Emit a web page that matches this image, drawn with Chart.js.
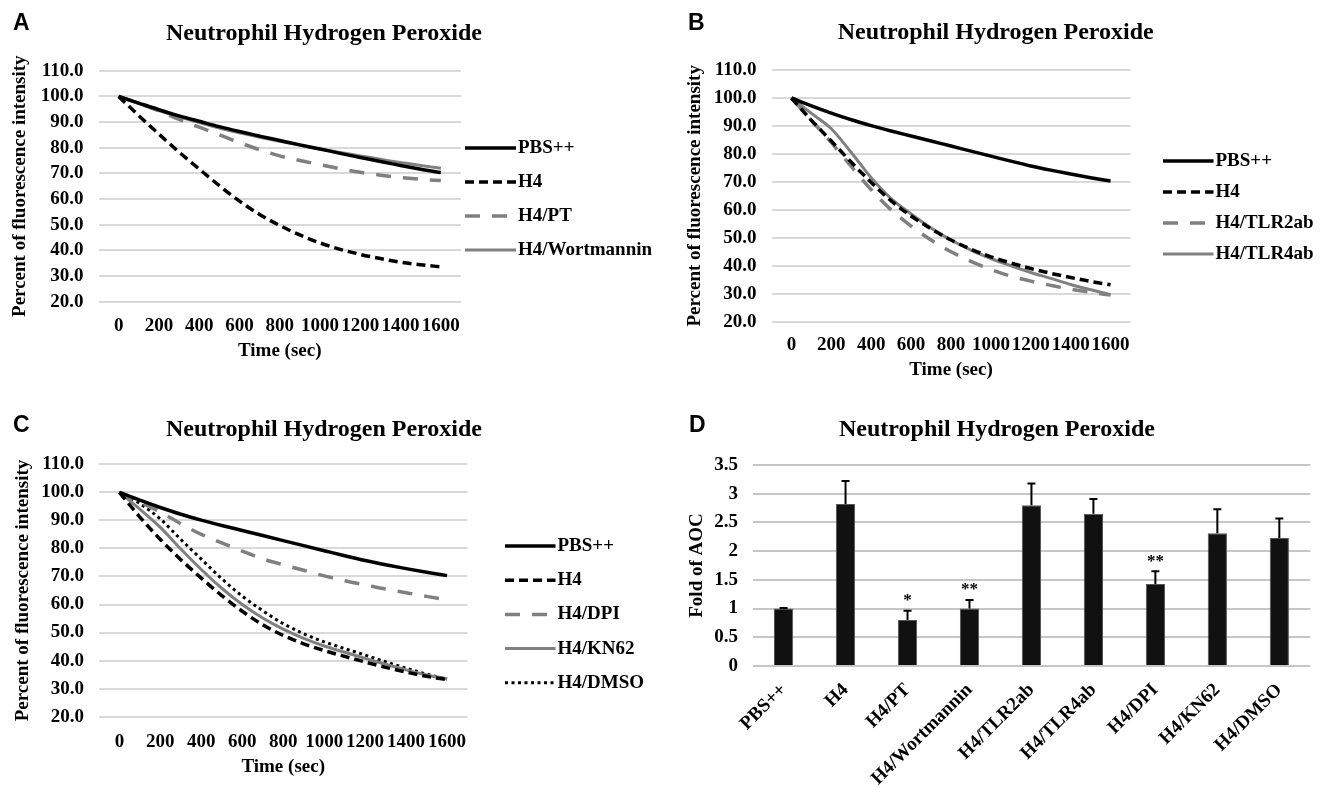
<!DOCTYPE html>
<html>
<head>
<meta charset="utf-8">
<script src="https://cdn.jsdelivr.net/npm/chart.js@4.4.1/dist/chart.umd.min.js"></script>
<style>
body { margin:0; background:#fff; width:1320px; height:787px; position:relative; overflow:hidden; }
.panel { position:absolute; }
.letra { position:absolute; font-family:'Liberation Sans', Arial, sans-serif; font-weight:bold; font-size:23px; line-height:1; color:#000; }
</style>
</head>
<body>
<div class="panel" style="left:0px;top:0px"><canvas id="graph_a" width="660" height="390"></canvas></div>
<div class="panel" style="left:660px;top:0px"><canvas id="graph_b" width="660" height="390"></canvas></div>
<div class="panel" style="left:0px;top:390px"><canvas id="graph_c" width="660" height="397"></canvas></div>
<div class="panel" style="left:660px;top:390px"><canvas id="graph_d" width="660" height="397"></canvas></div>
<div class="letra" style="left:13px;top:11px">A</div>
<div class="letra" style="left:688px;top:11px">B</div>
<div class="letra" style="left:13px;top:413px">C</div>
<div class="letra" style="left:689px;top:413px">D</div>
<script>
// tiempos (sec) y etiquetas del eje x
var tiempos = [0, 100, 200, 300, 400, 500, 600, 700, 800, 900, 1000, 1100, 1200, 1300, 1400, 1500, 1600];
var xTicks = [0, 200, 400, 600, 800, 1000, 1200, 1400, 1600];

// panel A
var a_pbs  = [100, 97.4, 94.8, 92.4, 90.3, 88.2, 86.3, 84.5, 82.8, 81.1, 79.5, 77.8, 76.2, 74.6, 73.1, 71.6, 70.3];
var a_h4   = [100, 92.5, 85.3, 78.3, 71.7, 65.2, 59.2, 54, 49.7, 46, 42.9, 40.4, 38.4, 36.8, 35.4, 34.4, 33.6];
var a_pt   = [100, 97.2, 94.3, 91, 88, 85, 82, 79.2, 76.8, 75, 73.4, 71.8, 70.4, 69.3, 68.4, 67.7, 67.2];
var a_wort = [100, 97.2, 94.5, 92, 89.8, 87.7, 85.8, 84.1, 82.5, 81, 79.5, 78.1, 76.8, 75.5, 74.2, 73.1, 72];

// panel B
var b_pbs  = [100, 97.2, 94.6, 92.2, 90.1, 88.2, 86.4, 84.6, 82.8, 81, 79.2, 77.4, 75.7, 74.2, 72.8, 71.5, 70.3];
var b_h4   = [100, 92, 84.6, 77, 69.8, 63.2, 57.8, 53.2, 49.2, 45.9, 43.2, 41, 39, 37.3, 35.8, 34.4, 33.2];
var b_tlr2 = [100, 92, 84, 75.5, 67.2, 60, 54.2, 49.2, 45, 41.6, 38.7, 36.3, 34.5, 33, 31.6, 30.5, 29.5];
var b_tlr4 = [100, 94.5, 89, 80.5, 71.5, 64, 58.5, 53.5, 49.2, 45.6, 42.6, 40, 37.6, 35.5, 33.3, 31.4, 29.7];

// panel C
var c_pbs  = [100, 97.2, 94.6, 92.2, 90.1, 88.2, 86.4, 84.6, 82.8, 81, 79.2, 77.4, 75.7, 74.2, 72.8, 71.5, 70.3];
var c_h4   = [100, 91.2, 83.2, 76, 69.4, 63.2, 57.6, 52.8, 49, 46, 43.6, 41.5, 39.5, 37.6, 35.9, 34.4, 33.2];
var c_dpi  = [100, 96.5, 93, 88.8, 85, 82, 79, 76.3, 74.2, 72.2, 70.2, 68.5, 67, 65.5, 64.2, 62.9, 61.7];
var c_kn62 = [100, 94, 87.5, 79.8, 72.5, 65.8, 60, 55.2, 51.2, 47.9, 45.2, 43, 40.8, 38.7, 36.7, 34.9, 33.5];
var c_dmso = [100, 96, 90.5, 83.2, 76.2, 69.2, 63, 57.8, 53.2, 49.6, 46.7, 44.3, 42, 39.6, 37.3, 35.2, 33.4];

// panel D
var d_labels = ["PBS++", "H4", "H4/PT", "H4/Wortmannin", "H4/TLR2ab", "H4/TLR4ab", "H4/DPI", "H4/KN62", "H4/DMSO"];
var d_means  = [1.0, 2.82, 0.80, 1.00, 2.80, 2.65, 1.43, 2.31, 2.23];
var d_err    = [0.01, 0.40, 0.16, 0.15, 0.38, 0.26, 0.22, 0.42, 0.34];
var d_sig    = ["", "", "*", "**", "", "", "**", "", ""];

var serif = "'Liberation Serif', 'Times New Roman', serif";
var fuenteTitulo = {family: serif, size: 24, weight: 'bold'};
var fuenteEje = {family: serif, size: 19, weight: 'bold'};
var fuenteTicks = {family: serif, size: 19, weight: 'bold'};

var estilos = {
    negro:     {borderColor: '#000', borderWidth: 3.5, borderDash: []},
    negroDash: {borderColor: '#000', borderWidth: 3.5, borderDash: [9, 5]},
    grisDash:  {borderColor: '#808080', borderWidth: 3.5, borderDash: [15, 12]},
    gris:      {borderColor: '#808080', borderWidth: 3, borderDash: []},
    puntos:    {borderColor: '#000', borderWidth: 3, borderDash: [3, 3.5]}
};

function serie(label, valores, estilo) {
    return {
        label: label,
        data: tiempos.map(function(t, i) { return {x: t, y: valores[i]}; }),
        borderColor: estilo.borderColor,
        borderWidth: estilo.borderWidth,
        borderDash: estilo.borderDash,
        fill: false
    };
}

// leyenda dibujada a mano para poder ubicarla igual que en la figura
var leyenda = {
    id: 'leyenda',
    afterDraw: function(chart, args, opts) {
        var ctx = chart.ctx;
        ctx.save();
        chart.data.datasets.forEach(function(ds, i) {
            var y = opts.y + i * opts.dy;
            ctx.beginPath();
            ctx.setLineDash(ds.borderDash || []);
            ctx.lineWidth = ds.borderWidth;
            ctx.strokeStyle = ds.borderColor;
            ctx.moveTo(opts.x, y);
            ctx.lineTo(opts.x + opts.w, y);
            ctx.stroke();
            ctx.setLineDash([]);
            ctx.fillStyle = '#000';
            ctx.font = 'bold 19px ' + serif;
            ctx.textBaseline = 'middle';
            ctx.textAlign = 'left';
            ctx.fillText(ds.label, opts.x + opts.w + 2, y);
        });
        ctx.restore();
    }
};

function graficar_linea(id, datasets, cfg) {
    return new Chart(document.getElementById(id).getContext('2d'), {
        type: 'line',
        data: {datasets: datasets},
        options: {
            responsive: false,
            animation: false,
            layout: {padding: {left: cfg.pL, right: cfg.pR, top: 0, bottom: 0}},
            elements: {point: {radius: 0}, line: {cubicInterpolationMode: 'monotone', borderCapStyle: 'butt'}},
            plugins: {
                legend: {display: false},
                tooltip: {enabled: false},
                title: {display: true, text: 'Neutrophil Hydrogen Peroxide', color: '#000', font: fuenteTitulo,
                        padding: {top: cfg.tT, bottom: cfg.tB}},
                leyenda: cfg.ley
            },
            scales: {
                x: {
                    type: 'linear', min: -100, max: 1700,
                    grid: {display: false}, border: {display: false},
                    afterBuildTicks: function(ax) { ax.ticks = xTicks.map(function(v) { return {value: v}; }); },
                    afterFit: function(ax) { ax.height = cfg.xH; },
                    ticks: {autoSkip: false, maxRotation: 0, padding: cfg.xTP, color: '#000', font: fuenteTicks,
                            callback: function(v) { return String(v); }},
                    title: {display: true, text: 'Time (sec)', color: '#000', font: fuenteEje, padding: {top: 0, bottom: cfg.xTB}}
                },
                y: {
                    min: 20, max: 110,
                    ticks: {stepSize: 10, autoSkip: false, padding: 15, color: '#000', font: fuenteTicks,
                            callback: function(v) { return v.toFixed(1); }},
                    grid: {color: '#d9d9d9', lineWidth: 2, drawTicks: false}, border: {display: false},
                    afterFit: function(ax) { ax.width = cfg.yW; },
                    title: {display: true, text: 'Percent of fluorescence intensity', color: '#000', font: fuenteEje,
                            padding: {top: cfg.yTP, bottom: 0}}
                },
                yR: {
                    type: 'linear', position: 'right', display: true,
                    grid: {display: false}, border: {display: false}, ticks: {display: false},
                    afterFit: function(ax) { ax.width = cfg.rW; }
                }
            }
        },
        plugins: [leyenda]
    });
}

graficar_linea('graph_a', [
    serie('PBS++', a_pbs, estilos.negro),
    serie('H4', a_h4, estilos.negroDash),
    serie('H4/PT', a_pt, estilos.grisDash),
    serie('H4/Wortmannin', a_wort, estilos.gris)
], {pL: 0, pR: 12, yW: 98.5, rW: 187, tT: 19.6, tB: 22.3, xH: 88.3, xTP: 4.9, xTB: 27.6, yTP: 8.6,
    ley: {x: 465, y: 148, dy: 34, w: 51}});

graficar_linea('graph_b', [
    serie('PBS++', b_pbs, estilos.negro),
    serie('H4', b_h4, estilos.negroDash),
    serie('H4/TLR2ab', b_tlr2, estilos.grisDash),
    serie('H4/TLR4ab', b_tlr4, estilos.gris)
], {pL: 11.4, pR: 0, yW: 100.1, rW: 189.5, tT: 18.6, tB: 22.6, xH: 68.3, xTP: 3.9, xTB: 8.6, yTP: 11.9,
    ley: {x: 503, y: 161, dy: 31, w: 50.5}});

graficar_linea('graph_c', [
    serie('PBS++', c_pbs, estilos.negro),
    serie('H4', c_h4, estilos.negroDash),
    serie('H4/DPI', c_dpi, estilos.grisDash),
    serie('H4/KN62', c_kn62, estilos.gris),
    serie('H4/DMSO', c_dmso, estilos.puntos)
], {pL: 0, pR: 12, yW: 98.9, rW: 180.5, tT: 24.9, tB: 20.6, xH: 70.3, xTP: 5.9, xTB: 8.9, yTP: 11.5,
    ley: {x: 505, y: 156, dy: 34.2, w: 50.5}});

// barras de error y asteriscos del panel D
var errores = {
    id: 'errores',
    afterDatasetsDraw: function(chart) {
        var ctx = chart.ctx, ys = chart.scales.y;
        var meta = chart.getDatasetMeta(0);
        ctx.save();
        ctx.strokeStyle = '#000';
        ctx.lineWidth = 2;
        ctx.fillStyle = '#000';
        ctx.font = 'bold 17px ' + serif;
        ctx.textAlign = 'center';
        ctx.textBaseline = 'middle';
        meta.data.forEach(function(bar, i) {
            var yTop = ys.getPixelForValue(d_means[i] + d_err[i]);
            ctx.beginPath();
            ctx.moveTo(bar.x, bar.y);
            ctx.lineTo(bar.x, yTop);
            ctx.moveTo(bar.x - 4, yTop);
            ctx.lineTo(bar.x + 4, yTop);
            ctx.stroke();
            if (d_sig[i]) {
                ctx.fillText(d_sig[i], bar.x, yTop - 10);
            }
        });
        ctx.restore();
    }
};

new Chart(document.getElementById('graph_d').getContext('2d'), {
    type: 'bar',
    data: {
        labels: d_labels,
        datasets: [{data: d_means, backgroundColor: '#111', borderColor: '#555', borderWidth: 1,
                    barPercentage: 0.31, categoryPercentage: 1}]
    },
    options: {
        responsive: false,
        animation: false,
        layout: {padding: {left: 23.7, right: 9.7, top: 0, bottom: 0}},
        plugins: {
            legend: {display: false},
            tooltip: {enabled: false},
            title: {display: true, text: 'Neutrophil Hydrogen Peroxide', color: '#000', font: fuenteTitulo,
                    padding: {top: 24.9, bottom: 21.3}}
        },
        scales: {
            x: {
                grid: {display: false}, border: {display: false},
                ticks: {autoSkip: false, minRotation: 45, maxRotation: 45, padding: 5, color: '#000', font: fuenteTicks},
                afterFit: function(ax) { ax.height = 121; }
            },
            y: {
                min: 0, max: 3.5,
                ticks: {stepSize: 0.5, autoSkip: false, padding: 14.6, color: '#000', font: fuenteTicks,
                        callback: function(v) { return String(v); }},
                grid: {color: '#c6c6c6', lineWidth: 2, drawTicks: false}, border: {display: false},
                afterFit: function(ax) { ax.width = 68.9; },
                title: {display: true, text: 'Fold of AOC', color: '#000', font: fuenteEje, padding: {top: 1.9, bottom: 0}}
            }
        }
    },
    plugins: [errores]
});
</script>
</body>
</html>
